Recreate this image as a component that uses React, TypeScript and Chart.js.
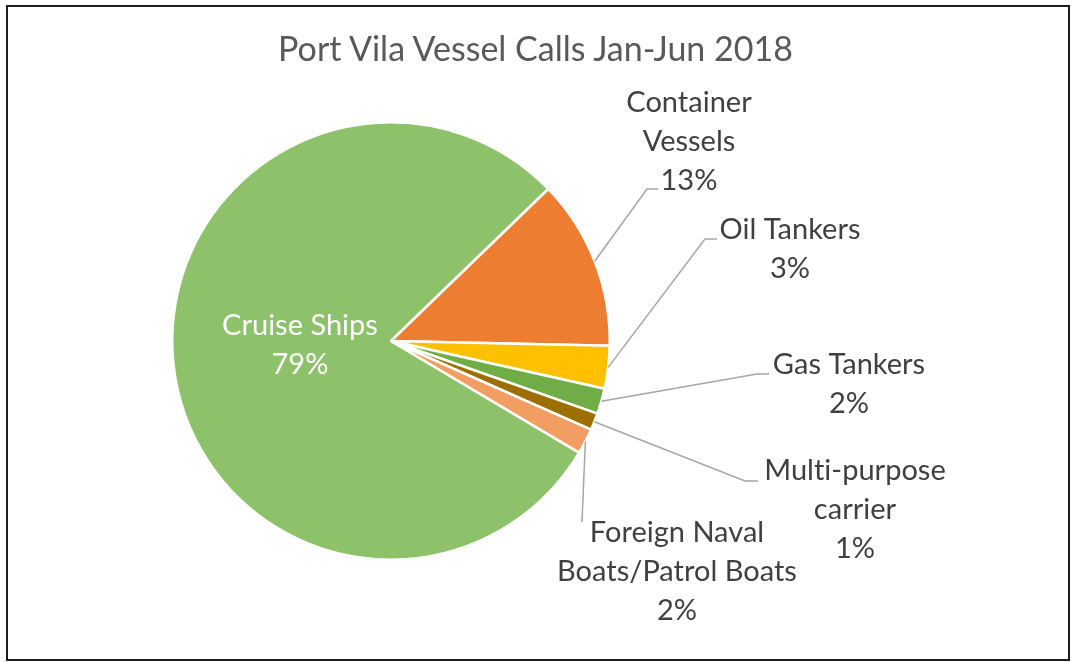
import React, { useEffect, useRef } from "react";
import { Chart, registerables } from "chart.js";

Chart.register(...registerables);

const categories = [
  "Cruise Ships",
  "Container Vessels",
  "Oil Tankers",
  "Gas Tankers",
  "Multi-purpose carrier",
  "Foreign Naval Boats/Patrol Boats",
];
const vesselCalls = [126, 20, 5, 3, 2, 3];
const sliceColors = ["#8DC26B", "#ED7D31", "#FFC000", "#70AD47", "#9C6F00", "#F29D62"];
const labelLines = [
  ["Cruise Ships"],
  ["Container", "Vessels"],
  ["Oil Tankers"],
  ["Gas Tankers"],
  ["Multi-purpose", "carrier"],
  ["Foreign Naval", "Boats/Patrol Boats"],
];

// layout of the data labels (text centre x, first line y, leader bend, leader end)
const labelLayout = [
  { x: 300, y: 326, inside: true },
  { x: 689, y: 103, bend: [647, 189], end: [658, 189] },
  { x: 790, y: 230, bend: [705, 239], end: [717, 239] },
  { x: 849, y: 365, bend: [757, 374], end: [769, 374] },
  { x: 855, y: 471, bend: [745, 481], end: [758, 481] },
  { x: 677, y: 533, bend: [582, 522], end: [582, 522] },
];

const FONT = "Lato, 'Noto Sans', sans-serif";
const LINE_H = 39;

const labelPlugin = {
  id: "pieLabels",
  afterDraw(chart: any) {
    const ctx = chart.ctx;
    const meta = chart.getDatasetMeta(0);
    const data = chart.data.datasets[0].data as number[];
    const total = data.reduce((a, b) => a + b, 0);
    ctx.save();
    meta.data.forEach((arc: any, i: number) => {
      const lay: any = labelLayout[i];
      const pct = Math.round((data[i] / total) * 100) + "%";
      const lines = [...labelLines[i], pct];
      if (!lay.inside) {
        const mid = (arc.startAngle + arc.endAngle) / 2;
        const sx = arc.x + Math.cos(mid) * arc.outerRadius;
        const sy = arc.y + Math.sin(mid) * arc.outerRadius;
        ctx.beginPath();
        ctx.strokeStyle = "#A6A6A6";
        ctx.lineWidth = 1.5;
        ctx.moveTo(sx, sy);
        ctx.lineTo(lay.bend[0], lay.bend[1]);
        ctx.lineTo(lay.end[0], lay.end[1]);
        ctx.stroke();
      }
      ctx.fillStyle = lay.inside ? "#FFFFFF" : "#404040";
      ctx.font = `29px ${FONT}`;
      try {
        (ctx as any).letterSpacing = "0.01px";
      } catch (e) {}
      ctx.textAlign = "center";
      ctx.textBaseline = "middle";
      lines.forEach((t, k) => ctx.fillText(t, lay.x, lay.y + k * LINE_H));
    });
    ctx.restore();
  },
};

export default function App() {
  const ref = useRef<HTMLCanvasElement>(null);
  useEffect(() => {
    if (!ref.current) return;
    const chart = new Chart(ref.current, {
      type: "pie",
      data: {
        labels: categories,
        datasets: [
          {
            data: vesselCalls,
            backgroundColor: sliceColors,
            borderColor: "#FFFFFF",
            borderWidth: 2.5,
          },
        ],
      },
      options: {
        animation: false,
        responsive: false,
        rotation: 120.7,
        layout: { padding: { left: 171, right: 460, top: 121, bottom: 101 } },
        plugins: {
          legend: { display: false },
          tooltip: { enabled: false },
          title: { display: false },
        },
      },
      plugins: [labelPlugin],
    });
    return () => chart.destroy();
  }, []);
  return (
    <div style={{ position: "fixed", left: 0, top: 0, width: 1071, height: 662, background: "#fff" }}>
      <canvas ref={ref} width={1071} height={662} style={{ position: "absolute", left: 0, top: 0 }} />
      <div
        style={{
          position: "absolute",
          left: 6,
          top: 5,
          width: 1060,
          height: 652,
          border: "2px solid #1E1E1E",
          pointerEvents: "none",
        }}
      />
      <div
        style={{
          position: "absolute",
          left: 0,
          width: 1071,
          top: 27,
          textAlign: "center",
          fontFamily: FONT,
          fontSize: 34,
          color: "#595959",
          lineHeight: "42px",
          fontVariantLigatures: "none",
        }}
      >
        Port Vila Vessel Calls Jan-Jun 2018
      </div>
    </div>
  );
}
